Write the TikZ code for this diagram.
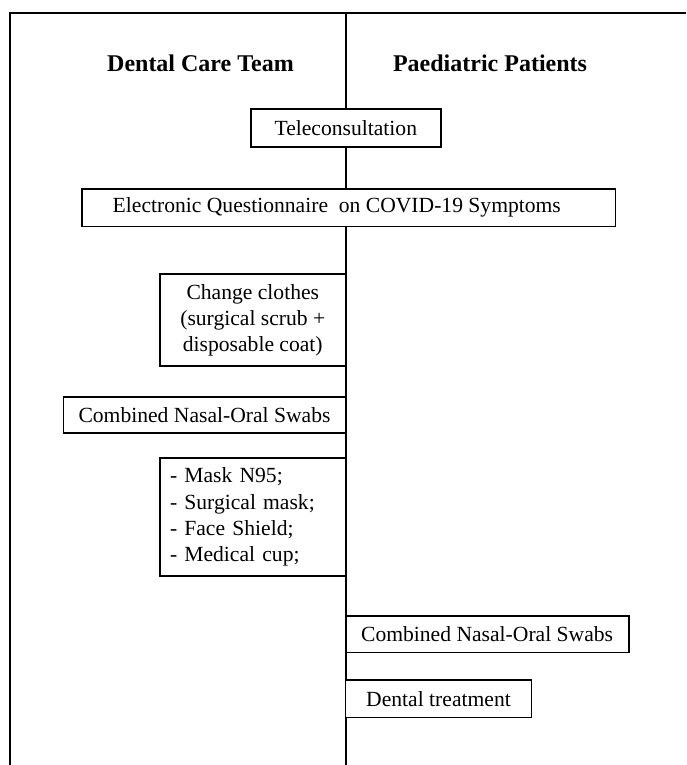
\documentclass[tikz,border=0pt]{standalone}
\usepackage{fontspec}
\setmainfont{Liberation Serif}
\newcommand{\flowtext}{\fontsize{21.6}{26.3}\selectfont}
\newcommand{\lanetext}{\fontsize{24}{28}\selectfont\bfseries}

\begin{document}
\begin{tikzpicture}[x=1pt, y=-1pt,
  stepbox/.style={draw, line width=1.8pt, fill=white, inner sep=0pt, align=center, font=\flowtext},
  lanehead/.style={font=\lanetext}]

  % Fix the picture size
  \useasboundingbox (0,0) rectangle (686,765);

  % Define coordinates for the frame and the lane divider
  \coordinate (frameTL) at (10,13);
  \coordinate (frameTR) at (686,13);
  \coordinate (frameBL) at (10,765);
  \coordinate (laneT) at (345.6,13);
  \coordinate (laneB) at (345.6,765);

  % Draw the frame and the divider
  \draw[line width=2pt] (frameBL) -- (frameTL) -- (frameTR);
  \draw[line width=2pt] (laneT) -- (laneB);

  % Lane headings
  \node[lanehead] (team) at (200.5,63) {Dental Care Team};
  \node[lanehead] (patients) at (490,63) {Paediatric Patients};

  % Steps across both lanes
  \node[stepbox, minimum width=190.4pt, minimum height=38pt] (tele) at (345.8,128) {Teleconsultation};
  \node[stepbox, minimum width=533.5pt, minimum height=37.5pt] (quest) at (348.8,207.8) {\hspace*{-12pt}Electronic Questionnaire\ \ on COVID-19 Symptoms\hspace*{12pt}};

  % Steps of the dental care team
  \node[stepbox, minimum width=185.6pt, minimum height=91.7pt] (clothes) at (252.8,320.2) {Change clothes\\(surgical scrub +\\disposable coat)};
  \node[stepbox, minimum width=282.2pt, minimum height=36.3pt] (swabteam) at (204.5,415.2) {Combined Nasal-Oral Swabs};
  \node[stepbox, text width=165.6pt, inner xsep=10pt, align=left, minimum height=117.4pt] (ppe) at (252.8,517) {- Mask N95;\\- Surgical mask;\\- Face Shield;\\- Medical cup;};

  % Steps of the patients
  \node[stepbox, minimum width=283pt, minimum height=36.5pt] (swabpat) at (487.1,634.3) {Combined Nasal-Oral Swabs};
  \node[stepbox, minimum width=186pt, minimum height=37.5pt] (treat) at (438.5,698.8) {Dental treatment};

\end{tikzpicture}
\end{document}
